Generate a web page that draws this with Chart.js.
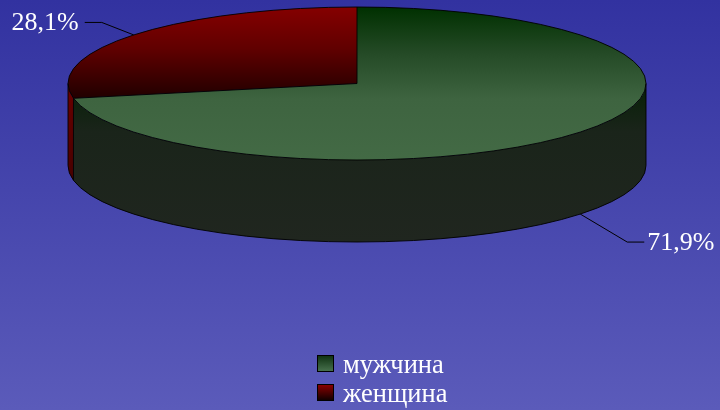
<!DOCTYPE html>
<html><head><meta charset="utf-8">
<script src="https://cdn.jsdelivr.net/npm/chart.js@4/dist/chart.umd.min.js"></script>
<style>html,body{margin:0;padding:0;background:#4646ac;overflow:hidden}#wrap{width:720px;height:410px;position:relative}</style>
</head><body><div id="wrap"><canvas id="c"></canvas></div>
<script>
// ---- data ----
const categories = ['мужчина', 'женщина'];
const shares = [71.9, 28.1];

// ---- style ----
const FONT = '"Liberation Serif", "Times New Roman", serif';
const CX = 357, CY = 83.5, RX = 289, RY = 76.5, DEPTH = 82;
const TOP_STOPS = [
  [[0, '#003000'], [0.3, '#244a26'], [0.6, '#3e6440'], [1, '#436a45']],
  [[0, '#850000'], [0.45, '#600000'], [1, '#1e0000']]
];
const TOP_RANGE = [[7, 160], [7, 100]];
const SIDE_STOPS = [
  [[0, '#062006'], [0.3, '#1a241a'], [1, '#20261f']],
  [[0, '#6a0000'], [1, '#300000']]
];
const LEG_STOPS = [
  [[0, '#0c2e0e'], [1, '#4a7450']],
  [[0, '#900000'], [1, '#0a0000']]
];
const LABEL_OFF = { right: [47, 28, 17], left: [-32, -12.5, -17] };

function grad(ctx, y0, y1, stops) {
  const g = ctx.createLinearGradient(0, y0, 0, y1);
  stops.forEach(([o, c]) => g.addColorStop(o, c));
  return g;
}
function topFill(chart, i) {
  const st = TOP_STOPS[i] || TOP_STOPS[0];
  const ca = chart.chartArea;
  if (!ca || i === undefined) return st[0][1];
  const R = Math.min(ca.right - ca.left, ca.bottom - ca.top) / 2;
  const oy = (ca.top + ca.bottom) / 2;
  const toPy = s => oy + (s - CY) * R / RY;
  const [y0, y1] = TOP_RANGE[i];
  return grad(chart.ctx, toPy(y0), toPy(y1), st);
}
const ept = (a, dy) => [CX + RX * Math.cos(a), CY + (dy || 0) + RY * Math.sin(a)];

const pie3d = {
  id: 'pie3d',
  beforeDraw(chart) {
    const ctx = chart.ctx;
    ctx.save();
    ctx.fillStyle = grad(ctx, 0, chart.height, [[0, '#3232a0'], [1, '#5b5bba']]);
    ctx.fillRect(0, 0, chart.width, chart.height);
    ctx.restore();
  },
  beforeDatasetsDraw(chart) {
    const ctx = chart.ctx;
    const meta = chart.getDatasetMeta(0);
    // side walls (front half only)
    meta.data.forEach((arc, i) => {
      const a0 = arc.startAngle, a1 = arc.endAngle;
      for (const k of [-2, 0, 2]) {
        const s = Math.max(a0, k * Math.PI), e = Math.min(a1, k * Math.PI + Math.PI);
        if (e > s) {
          ctx.save();
          ctx.fillStyle = grad(ctx, CY, CY + DEPTH + RY, SIDE_STOPS[i]);
          ctx.beginPath();
          ctx.ellipse(CX, CY, RX, RY, 0, s, e);
          ctx.ellipse(CX, CY + DEPTH, RX, RY, 0, e, s, true);
          ctx.closePath();
          ctx.fill();
          ctx.restore();
        }
      }
    });
    // squash the library's pie into the top ellipse
    const a = meta.data[0];
    const R = a.outerRadius;
    ctx.save();
    ctx.translate(CX, CY);
    ctx.scale(RX / R, RY / R);
    ctx.translate(-a.x, -a.y);
  },
  afterDatasetsDraw(chart) {
    const ctx = chart.ctx;
    ctx.restore();
    const meta = chart.getDatasetMeta(0);
    ctx.save();
    ctx.strokeStyle = 'rgba(0,0,0,0.9)';
    ctx.lineWidth = 1;
    ctx.beginPath(); ctx.ellipse(CX, CY, RX, RY, 0, 0, Math.PI * 2); ctx.stroke();
    ctx.beginPath(); ctx.ellipse(CX, CY + DEPTH, RX, RY, 0, 0, Math.PI); ctx.stroke();
    ctx.beginPath();
    ctx.moveTo(CX + RX, CY); ctx.lineTo(CX + RX, CY + DEPTH);
    ctx.moveTo(CX - RX, CY); ctx.lineTo(CX - RX, CY + DEPTH);
    meta.data.forEach(arc => {
      const p = ept(arc.startAngle);
      ctx.moveTo(CX, CY); ctx.lineTo(p[0], p[1]);
      if (Math.sin(arc.startAngle) > 0.001) {
        ctx.moveTo(p[0], p[1]); ctx.lineTo(p[0], p[1] + DEPTH);
      }
    });
    ctx.stroke();
    // labels with leader lines
    ctx.fillStyle = '#ffffff';
    ctx.font = '26px ' + FONT;
    ctx.textBaseline = 'middle';
    ctx.strokeStyle = '#000';
    meta.data.forEach((arc, i) => {
      const mid = (arc.startAngle + arc.endAngle) / 2;
      const front = Math.sin(mid) > 0;
      const anc = ept(mid, front ? DEPTH : 0);
      const right = Math.cos(mid) >= 0;
      const off = right ? LABEL_OFF.right : LABEL_OFF.left;
      const el = [anc[0] + off[0], anc[1] + off[1]];
      const en = [el[0] + off[2], el[1]];
      ctx.beginPath();
      ctx.moveTo(anc[0], anc[1]); ctx.lineTo(el[0], el[1]); ctx.lineTo(en[0], en[1]);
      ctx.stroke();
      const txt = shares[i].toFixed(1).replace('.', ',') + '%';
      ctx.textAlign = right ? 'left' : 'right';
      ctx.fillText(txt, en[0] + (right ? 3 : -6), en[1] + 1);
    });
    ctx.restore();
  },
  afterDraw(chart) {
    const ctx = chart.ctx;
    ctx.save();
    const bx = 317, tops = [355, 384], box = 17;
    categories.forEach((name, i) => {
      const y = tops[i];
      ctx.fillStyle = grad(ctx, y, y + box, LEG_STOPS[i]);
      ctx.fillRect(bx, y, box, box);
      ctx.strokeStyle = '#000';
      ctx.lineWidth = 1;
      ctx.strokeRect(bx + 0.5, y + 0.5, box - 1, box - 1);
      ctx.fillStyle = '#ffffff';
      ctx.font = '26.5px ' + FONT;
      ctx.textAlign = 'left';
      ctx.textBaseline = 'alphabetic';
      ctx.fillText(name, 343, y + 18);
    });
    ctx.restore();
  }
};

new Chart(document.getElementById('c'), {
  type: 'pie',
  data: {
    labels: categories,
    datasets: [{
      data: shares,
      backgroundColor: c => topFill(c.chart, c.dataIndex),
      borderWidth: 0,
      clip: false
    }]
  },
  options: {
    responsive: true,
    maintainAspectRatio: false,
    animation: false,
    events: [],
    layout: { padding: 0 },
    plugins: { legend: { display: false }, tooltip: { enabled: false } }
  },
  plugins: [pie3d]
});
</script>
</body></html>
